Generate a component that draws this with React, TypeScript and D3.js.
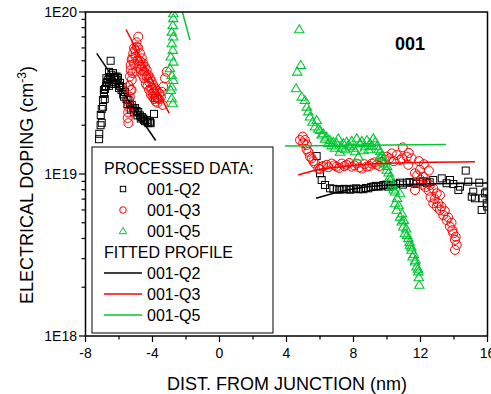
import React from "react";
import * as d3 from "d3";

const W = 491;
const H = 394;

// tick labels
const xMajorTicks = [-8, -4, 0, 4, 8, 12, 16];
const xMinorTicks = [-6, -2, 2, 6, 10, 14];
const yMajorTicks = [1e18, 1e19, 1e20];
const yTickLabels = ["1E18", "1E19", "1E20"];

// Processed data: [distance nm, doping cm^-3]
const q2Data: [number, number][] = [
  [-7.19, 1.64e19], [-7.18, 1.77e19], [-7.03, 2.07e19], [-7.1, 2.0e19], [-7.09, 2.31e19], [-7.03, 2.52e19],
  [-6.95, 2.6e19], [-6.96, 2.86e19], [-6.85, 2.9e19], [-6.9, 3.12e19], [-6.9, 3.3e19], [-6.84, 3.35e19], [-6.78, 3.49e19],
  [-6.75, 3.9e19], [-6.73, 3.65e19], [-6.7, 3.7e19], [-6.64, 3.8e19], [-6.6, 3.5e19], [-6.54, 3.97e19], [-6.6, 4.27e19], [-6.5, 5.0e19],
  [-6.5, 3.6e19], [-6.45, 4.1e19], [-6.4, 3.7e19], [-6.36, 4.2e19], [-6.3, 3.9e19], [-6.24, 3.97e19], [-6.2, 3.6e19],
  [-6.15, 4.0e19], [-6.14, 3.8e19], [-6.06, 3.92e19], [-6.0, 3.4e19], [-5.95, 3.5e19], [-5.94, 3.65e19], [-5.85, 3.3e19], [-5.78, 3.44e19],
  [-5.75, 3.1e19], [-5.7, 3.0e19], [-5.64, 3.21e19], [-5.55, 2.9e19], [-5.5, 2.7e19], [-5.44, 2.86e19], [-5.35, 2.7e19], [-5.3, 2.5e19], [-5.24, 2.67e19],
  [-5.15, 2.55e19], [-5.1, 2.4e19], [-5.04, 2.55e19], [-4.95, 2.45e19], [-4.9, 2.3e19], [-4.85, 2.41e19], [-4.75, 2.3e19], [-4.7, 2.2e19], [-4.64, 2.25e19],
  [-4.55, 2.2e19], [-4.5, 2.15e19], [-4.45, 2.12e19], [-4.35, 2.15e19], [-4.3, 2.1e19], [-4.25, 2.06e19], [-4.15, 2.1e19], [-4.11, 2.06e19], [-3.91, 2.35e19],
  [-3.85, 2.94e19],
  [5.8, 1.29e19], [6.0, 1.01e19], [6.1, 9.18e18], [6.3, 8.55e18], [6.6, 8.16e18], [6.8, 8.1e18], [7.0, 8.05e18], [7.15, 8.0e18],
  [7.3, 8.05e18], [7.45, 8.1e18], [7.59, 8.05e18], [7.8, 8.0e18], [7.99, 8.11e18], [8.15, 8.15e18], [8.29, 8.05e18], [8.45, 8.1e18], [8.59, 8.05e18],
  [8.75, 8.2e18], [8.88, 8.16e18], [9.05, 8.3e18], [9.18, 8.36e18], [9.35, 8.45e18], [9.48, 8.36e18], [9.65, 8.4e18], [9.78, 8.55e18], [9.95, 8.6e18],
  [10.08, 8.36e18], [10.25, 8.5e18], [10.38, 8.55e18], [10.55, 8.7e18], [10.78, 8.84e18], [10.95, 8.6e18],
  [11.18, 8.84e18], [11.35, 8.9e18], [11.57, 8.84e18], [11.75, 8.7e18], [11.97, 8.97e18], [12.15, 9.0e18], [12.37, 8.77e18], [12.55, 8.9e18],
  [12.76, 9.18e18], [13.27, 9.4e18],
  [13.56, 8.77e18], [13.76, 9.18e18], [13.96, 8.67e18], [14.26, 7.96e18], [14.36, 8.36e18], [14.7, 1.05e19],
  [14.85, 8.97e18], [15.06, 7.24e18], [15.15, 7.78e18], [15.25, 7.08e18], [15.51, 8.84e18], [15.65, 6.0e18],
  [15.71, 7.08e18], [15.85, 7.6e18], [15.95, 7.78e18], [15.95, 6.59e18], [15.98, 6.3e18],
];

const q3Data: [number, number][] = [
  [-5.44, 2.06e19], [-5.48, 2.22e19], [-5.45, 2.4e19], [-5.44, 2.6e19], [-5.39, 2.86e19], [-5.35, 3.0e19],
  [-5.4, 3.5e19], [-5.35, 4.0e19], [-5.3, 4.7e19], [-5.2, 5.2e19], [-5.1, 6.0e19], [-4.95, 6.5e19],
  [-5.3, 3.3e19], [-5.25, 3.3e19], [-5.24, 3.8e19], [-5.2, 4.2e19], [-5.3, 4.38e19], [-5.1, 4.8e19],
  [-5.24, 5.06e19], [-5.15, 5.56e19], [-5.0, 5.3e19], [-5.04, 5.83e19], [-4.95, 4.3e19], [-4.94, 6.1e19],
  [-4.9, 5.0e19], [-4.85, 7.04e19], [-4.85, 6.0e19], [-4.8, 4.6e19], [-4.75, 5.56e19], [-4.75, 5.0e19], [-4.7, 4.4e19], [-4.64, 5.18e19],
  [-4.65, 4.7e19], [-4.6, 4.1e19], [-4.55, 4.82e19], [-4.5, 3.9e19], [-4.5, 4.3e19], [-4.45, 4.59e19], [-4.4, 3.6e19], [-4.35, 4.38e19],
  [-4.35, 4.0e19], [-4.3, 3.5e19], [-4.25, 4.08e19], [-4.2, 3.3e19], [-4.2, 3.7e19], [-4.15, 3.9e19], [-4.1, 3.1e19], [-4.05, 3.72e19],
  [-4.05, 3.4e19], [-4.0, 3.0e19], [-3.99, 3.15e19], [-3.95, 3.54e19], [-3.9, 2.9e19], [-3.9, 3.2e19], [-3.85, 3.38e19], [-3.8, 2.8e19],
  [-3.75, 3.27e19], [-3.75, 3.0e19], [-3.7, 2.75e19], [-3.69, 2.93e19], [-3.6, 2.9e19], [-3.59, 3.15e19], [-3.5, 3.0e19], [-3.45, 3.22e19], [-3.39, 2.67e19],
  [-3.36, 3.46e19], [-3.25, 3.9e19], [-3.15, 4.28e19],
  [4.81, 1.62e19], [4.97, 1.7e19], [5.0, 1.55e19], [5.1, 1.62e19], [5.2, 1.42e19], [5.21, 1.51e19], [5.3, 1.37e19], [5.4, 1.28e19],
  [5.5, 1.25e19], [5.6, 1.2e19],
  [5.7, 1.16e19], [5.9, 1.08e19], [6.0, 1.07e19], [6.1, 1.11e19], [6.2, 1.12e19], [6.4, 1.14e19], [6.5, 1.1e19], [6.7, 1.16e19],
  [6.85, 1.13e19], [7.0, 1.11e19], [7.15, 1.09e19],
  [7.3, 1.16e19], [7.45, 1.12e19], [7.59, 1.14e19], [7.75, 1.17e19], [7.89, 1.11e19], [8.05, 1.13e19], [8.19, 1.16e19], [8.35, 1.1e19],
  [8.49, 1.08e19], [8.65, 1.15e19], [8.79, 1.11e19], [8.95, 1.12e19],
  [9.09, 1.16e19], [9.25, 1.18e19], [9.39, 1.14e19], [9.55, 1.12e19], [9.68, 1.19e19], [9.85, 1.22e19], [9.98, 1.28e19], [10.15, 1.25e19],
  [10.28, 1.34e19], [10.4, 1.2e19], [10.58, 1.31e19],
  [10.78, 1.22e19], [10.9, 1.25e19], [10.94, 1.46e19], [11.18, 1.28e19], [11.27, 1.14e19], [11.3, 1.35e19], [11.47, 1.25e19], [11.67, 1.01e19],
  [11.8, 9.8e18], [11.9, 1.2e19], [12.2, 1.15e19], [12.5, 1.05e19],
  [11.67, 7.96e18], [11.97, 1.06e19], [12.0, 9.2e18], [12.1, 8.6e18], [12.17, 9.63e18], [12.3, 8.3e18], [12.37, 8.96e18], [12.5, 7.9e18],
  [12.57, 8.55e18], [12.6, 7.2e18], [12.76, 8.16e18], [12.85, 7.0e18],
  [12.76, 6.59e18], [12.97, 7.6e18], [12.97, 6.28e18], [13.05, 6.6e18], [13.16, 7.41e18], [13.16, 6.0e18], [13.25, 6.3e18], [13.36, 5.58e18],
  [13.45, 5.9e18], [13.56, 5.2e18], [13.65, 5.4e18], [13.76, 4.73e18], [13.85, 5.0e18], [13.9, 4.5e18], [13.96, 4.3e18], [14.06, 3.92e18],
  [14.1, 4.1e18], [14.16, 3.65e18], [14.06, 3.4e18],
];

const q5Data: [number, number][] = [
  [-2.76, 9.8e19], [-2.76, 9.15e19], [-2.79, 8.3e19], [-2.85, 7.55e19], [-2.76, 7.04e19], [-2.85, 6.4e19],
  [-2.79, 5.83e19], [-2.91, 5.3e19], [-2.76, 4.93e19], [-2.96, 4.49e19], [-2.85, 4.08e19], [-2.76, 3.8e19],
  [-2.85, 3.46e19], [-2.91, 3.3e19], [-2.85, 2.93e19], [-2.79, 2.73e19],
  [4.76, 7.82e19], [4.85, 4.71e19], [4.64, 4.28e19], [4.57, 3.38e19], [4.91, 3.0e19], [5.1, 2.86e19],
  [5.21, 2.6e19], [5.3, 2.43e19], [5.4, 2.26e19], [5.56, 2.1e19], [5.7, 1.96e19], [5.8, 2.15e19], [5.9, 1.9e19],
  [6.0, 1.87e19], [6.1, 1.75e19], [6.2, 1.78e19], [6.3, 1.65e19], [6.4, 1.7e19], [6.5, 1.55e19], [6.6, 1.62e19],
  [6.7, 1.5e19], [6.79, 1.58e19], [6.9, 1.45e19], [7.0, 1.55e19], [7.09, 1.66e19],
  [7.19, 1.37e19], [7.3, 1.45e19], [7.39, 1.55e19], [7.5, 1.42e19], [7.59, 1.58e19], [7.7, 1.52e19], [7.79, 1.48e19],
  [7.9, 1.6e19], [8.0, 1.45e19], [8.1, 1.38e19], [8.19, 1.66e19], [8.29, 1.28e19],
  [8.39, 1.55e19], [8.5, 1.6e19], [8.6, 1.4e19], [8.69, 1.48e19], [8.8, 1.62e19], [8.9, 1.42e19], [8.99, 1.55e19],
  [9.1, 1.5e19], [9.18, 1.66e19], [9.3, 1.58e19], [9.39, 1.48e19], [9.5, 1.42e19], [9.58, 1.28e19], [9.6, 1.38e19],
  [9.7, 1.3e19], [9.78, 1.16e19], [9.9, 1.2e19], [9.98, 1.06e19], [10.0, 1.12e19], [10.1, 1.02e19], [10.18, 9.63e18],
  [10.2, 9.2e18], [10.28, 8.35e18], [10.35, 8.6e18], [10.4, 8.0e18], [10.48, 7.78e18], [10.78, 7.6e18],
  [10.48, 6.59e18], [10.58, 6.0e18], [10.6, 7.1e18], [10.7, 6.4e18], [10.78, 5.45e18], [10.88, 5.08e18], [10.9, 5.7e18],
  [10.97, 4.73e18], [11.0, 5.2e18], [11.07, 4.3e18], [11.15, 4.6e18], [11.2, 4.2e18],
  [11.27, 4.01e18], [11.35, 3.8e18], [11.37, 3.65e18], [11.45, 3.55e18], [11.47, 3.4e18], [11.53, 3.09e18], [11.6, 3.2e18],
  [11.67, 2.88e18], [11.7, 2.95e18], [11.77, 2.68e18], [11.85, 2.6e18],
  [11.87, 2.5e18], [11.9, 2.3e18], [11.93, 2.07e18],
];

// Fitted profiles: [distance nm, doping cm^-3]
const q2FitLeft: [number, number][] = [[-7.33, 5.56e19], [-3.81, 1.61e19]];
const q2FitRight: [number, number][] = [[5.77, 7.08e18], [7.57, 7.93e18], [10.18, 8.55e18], [16.0, 8.8e18]];
const q3FitLeft: [number, number][] = [[-5.58, 7.8e19], [-3.0, 2.37e19]];
const q3FitRight: [number, number][] = [[4.7, 9.87e18], [5.8, 1.06e19], [7.0, 1.1e19], [9.58, 1.16e19], [15.25, 1.19e19]];
const q5FitLeft: [number, number][] = [[-2.24, 1.02e20], [-1.76, 6.7e19]];
const q5FitRight: [number, number][] = [[3.91, 1.49e19], [13.52, 1.52e19]];

const BLACK = "#000000";
const RED = "#ff0000";
const GREEN = "#00c832";
const FONT = "'Liberation Sans', Arial, Helvetica, sans-serif";

export default function App() {
  const x = d3.scaleLinear().domain([-8, 16]).range([85.5, 487.5]);
  const y = d3.scaleLog().domain([1e18, 1e20]).range([336, 12]);
  const line = d3
    .line<[number, number]>()
    .x((d) => x(d[0]))
    .y((d) => y(d[1]))
    .curve(d3.curveMonotoneX);

  const yMinor: number[] = [];
  [1e18, 1e19].forEach((dec) => {
    for (let k = 2; k <= 9; k++) yMinor.push(dec * k);
  });

  const tri = (cx: number, cy: number, s: number) =>
    `M${cx},${cy - s}L${cx + s * 1.05},${cy + s * 0.75}L${cx - s * 1.05},${cy + s * 0.75}Z`;

  const legendRows = [174, 195, 216, 237, 258, 279, 300, 321];

  return (
    <svg
      width={W}
      height={H}
      style={{ position: "absolute", left: 0, top: 0, background: "#fff" }}
      fontFamily={FONT}
    >
      <defs>
        <clipPath id="plotclip">
          <rect x={85.5} y={12} width={402} height={324} />
        </clipPath>
      </defs>
      <rect x={0} y={0} width={W} height={H} fill="#fff" />

      <g clipPath="url(#plotclip)">
        {q2Data.map((d, i) => (
          <rect
            key={"q2" + i}
            x={x(d[0]) - 3.5}
            y={y(d[1]) - 3.5}
            width={7}
            height={7}
            fill="none"
            stroke={BLACK}
            strokeWidth={1}
          />
        ))}
        {q3Data.map((d, i) => (
          <circle key={"q3" + i} cx={x(d[0])} cy={y(d[1])} r={4.5} fill="none" stroke={RED} strokeWidth={1} />
        ))}
        {q5Data.map((d, i) => (
          <path key={"q5" + i} d={tri(x(d[0]), y(d[1]), 4.5)} fill="none" stroke={GREEN} strokeWidth={1.1} />
        ))}
        {[q2FitLeft, q2FitRight].map((l, i) => (
          <path key={"f2" + i} d={line(l) || ""} fill="none" stroke={BLACK} strokeWidth={1.5} />
        ))}
        {[q3FitLeft, q3FitRight].map((l, i) => (
          <path key={"f3" + i} d={line(l) || ""} fill="none" stroke={RED} strokeWidth={1.5} />
        ))}
        {[q5FitLeft, q5FitRight].map((l, i) => (
          <path key={"f5" + i} d={line(l) || ""} fill="none" stroke={GREEN} strokeWidth={1.5} />
        ))}
      </g>

      {/* frame */}
      <rect x={85.5} y={12} width={402} height={324} fill="none" stroke={BLACK} strokeWidth={1.5} />

      {/* x ticks */}
      {xMajorTicks.map((t) => (
        <g key={"xt" + t}>
          <line x1={x(t)} x2={x(t)} y1={336} y2={342} stroke={BLACK} strokeWidth={1.2} />
          <text x={x(t)} y={358} fontSize={14} textAnchor="middle" fill={BLACK}>
            {t}
          </text>
        </g>
      ))}
      {xMinorTicks.map((t) => (
        <line key={"xm" + t} x1={x(t)} x2={x(t)} y1={336} y2={339.5} stroke={BLACK} strokeWidth={1.2} />
      ))}

      {/* y ticks */}
      {yMajorTicks.map((t, i) => (
        <g key={"yt" + i}>
          <line x1={79} x2={85.5} y1={y(t)} y2={y(t)} stroke={BLACK} strokeWidth={1.2} />
          <text x={77} y={y(t) + 5} fontSize={14} textAnchor="end" fill={BLACK}>
            {yTickLabels[i]}
          </text>
        </g>
      ))}
      {yMinor.map((t, i) => (
        <line key={"ym" + i} x1={81.5} x2={85.5} y1={y(t)} y2={y(t)} stroke={BLACK} strokeWidth={1.2} />
      ))}

      {/* axis titles */}
      <text x={287} y={390} fontSize={18} textAnchor="middle" fill={BLACK}>
        DIST. FROM JUNCTION (nm)
      </text>
      <text transform="translate(33,185) rotate(-90)" fontSize={18} textAnchor="middle" fill={BLACK}>
        ELECTRICAL DOPING (cm
        <tspan fontSize={12} dy={-7}>-3</tspan>
        <tspan dy={7}>)</tspan>
      </text>

      <text x={410} y={50} fontSize={18} fontWeight="bold" textAnchor="middle" fill={BLACK}>
        001
      </text>

      {/* legend */}
      <rect x={92} y={147} width={181} height={186} fill="#fff" stroke={BLACK} strokeWidth={1} />
      <text x={104} y={legendRows[0]} fontSize={16} fill={BLACK}>PROCESSED DATA:</text>
      <rect x={123 - 2.7} y={legendRows[1] - 6 - 2.7} width={5.4} height={5.4} fill="none" stroke={BLACK} strokeWidth={1} />
      <text x={147} y={legendRows[1]} fontSize={16} fill={BLACK}>001-Q2</text>
      <circle cx={123} cy={legendRows[2] - 6} r={3.3} fill="none" stroke={RED} strokeWidth={1} />
      <text x={147} y={legendRows[2]} fontSize={16} fill={BLACK}>001-Q3</text>
      <path d={tri(123, legendRows[3] - 6, 3.6)} fill="none" stroke={GREEN} strokeWidth={1} />
      <text x={147} y={legendRows[3]} fontSize={16} fill={BLACK}>001-Q5</text>
      <text x={104} y={legendRows[4]} fontSize={16} fill={BLACK}>FITTED PROFILE</text>
      {[BLACK, RED, GREEN].map((c, i) => (
        <g key={"lg" + i}>
          <line x1={104} x2={142} y1={legendRows[5 + i] - 6} y2={legendRows[5 + i] - 6} stroke={c} strokeWidth={1.5} />
          <text x={147} y={legendRows[5 + i]} fontSize={16} fill={BLACK}>
            {["001-Q2", "001-Q3", "001-Q5"][i]}
          </text>
        </g>
      ))}
    </svg>
  );
}
